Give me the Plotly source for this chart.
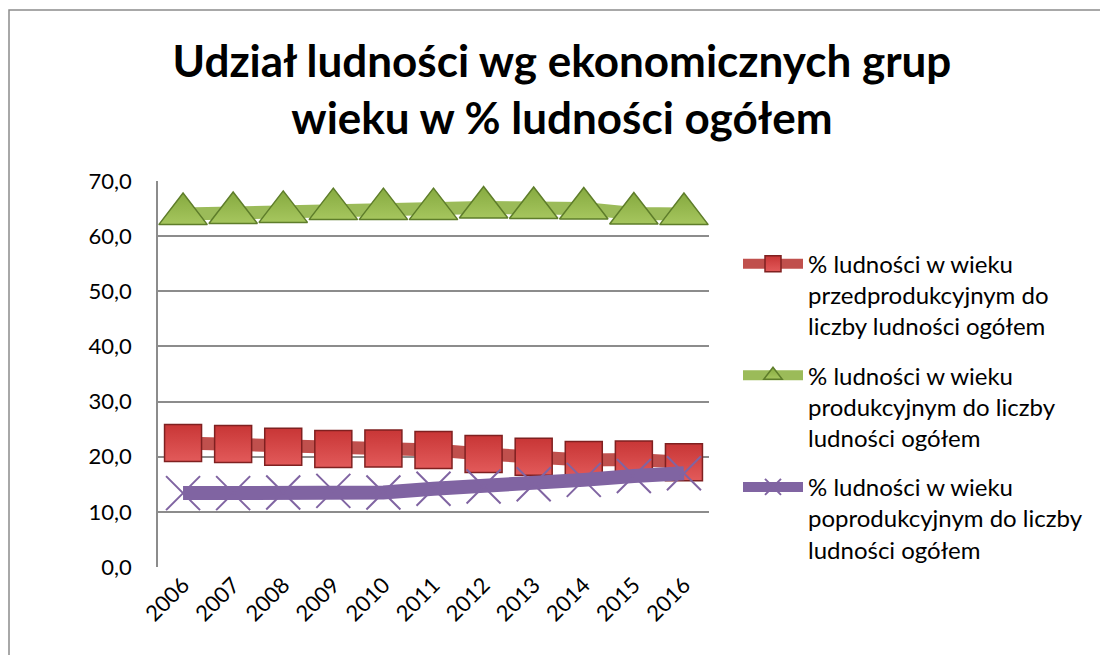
import plotly.graph_objects as go

years = ["2006", "2007", "2008", "2009", "2010", "2011", "2012", "2013", "2014", "2015", "2016"]
pre_productive = [22.5, 22.3, 21.8, 21.4, 21.5, 21.2, 20.5, 20.0, 19.4, 19.5, 19.0]
productive = [64.0, 64.2, 64.4, 64.9, 64.9, 64.9, 65.2, 65.1, 65.0, 64.1, 64.0]
post_productive = [13.4, 13.4, 13.5, 13.8, 13.5, 14.2, 14.6, 15.0, 15.8, 16.5, 17.0]

names = [
    "% ludności w wieku<br>przedprodukcyjnym do<br>liczby ludności ogółem",
    "% ludności w wieku<br>produkcyjnym do liczby<br>ludności ogółem",
    "% ludności w wieku<br>poprodukcyjnym do liczby<br>ludności ogółem",
]

FONT = "Lato, Calibri, Carlito, sans-serif"

# page has an 8px body margin; figure sized to fit the window
W, H = 1100, 647
L, T, R, B = 150, 173, 399, 88
PW, PH = W - L - R, H - T - B

fig = go.Figure()
fig.add_trace(go.Scatter(
    x=years, y=pre_productive, name=names[0], mode="lines+markers",
    legendgroup="a",
    line=dict(color="#C0504D", width=13),
    marker=dict(symbol="square", size=37, color="#C83636",
                line=dict(color="#7F2020", width=1.5),
                gradient=dict(type="vertical", color="#E25A5A")),
))
fig.add_trace(go.Scatter(
    x=years, y=productive, name=names[1], mode="lines+markers",
    legendgroup="b",
    line=dict(color="#9BBB59", width=13),
    marker=dict(symbol="triangle-up", size=42, color="#86AA40",
                line=dict(color="#5E7D2A", width=1.5),
                gradient=dict(type="vertical", color="#A6C65E")),
))
fig.add_trace(go.Scatter(
    x=years, y=post_productive, name=names[2], mode="lines+markers",
    legendgroup="c",
    line=dict(color="#8064A2", width=14),
    marker=dict(symbol="x-thin", size=34, color="#8064A2",
                line=dict(color="#8064A2", width=2)),
))

fig.update_layout(
    width=W, height=H,
    margin=dict(l=L, r=R, t=T, b=B),
    paper_bgcolor="white", plot_bgcolor="white",
    separators=", ",
    font=dict(family=FONT, size=22, color="black"),
    title=dict(
        text="<b>Udział ludności wg ekonomicznych grup<br>wieku w % ludności ogółem</b>",
        x=0.5036, xref="container", xanchor="center",
        y=0.893, yref="container", yanchor="middle",
        font=dict(family=FONT, size=44, color="black"),
    ),
    xaxis=dict(
        type="category", range=[-0.5, 10.5], tickangle=-45,
        showgrid=False, showline=False, ticks="",
        tickfont=dict(size=22), zeroline=False,
    ),
    yaxis=dict(
        range=[0, 70], dtick=10, tickformat=".1f",
        showgrid=True, gridcolor="#8C8C8C", gridwidth=1.5,
        showline=True, linecolor="#8C8C8C", linewidth=1.5,
        zeroline=False, ticks="", tickfont=dict(size=22),
        ticklabelstandoff=20,
    ),
    legend=dict(
        x=(730 - L) / PW, xanchor="left", y=0.843, yanchor="top",
        font=dict(size=24), itemwidth=60, tracegroupgap=15,
        valign="top", bgcolor="rgba(0,0,0,0)",
    ),
    showlegend=True,
    shapes=[dict(
        type="rect", xref="paper", yref="paper",
        x0=(1 - L) / PW, x1=(1130 - L) / PW,
        y0=(T + PH - 680) / PH, y1=(T + PH - 2) / PH,
        line=dict(color="#8C8C8C", width=1.5), fillcolor="rgba(0,0,0,0)",
        layer="below",
    )],
)

fig.write_html("out.html")
